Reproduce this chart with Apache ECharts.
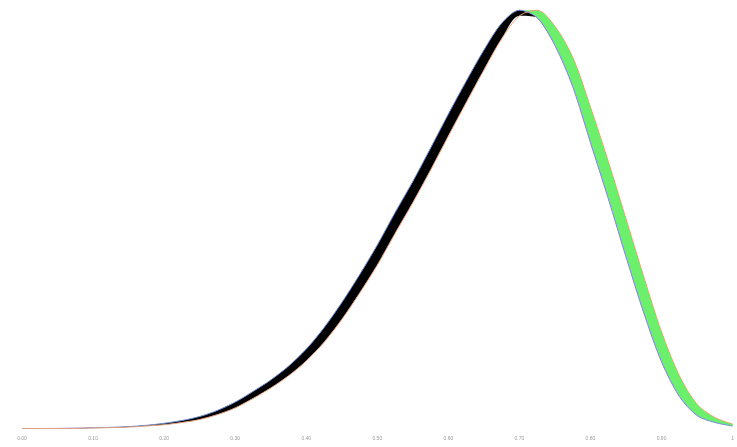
<!DOCTYPE html>
<html>
<head>
<meta charset="utf-8">
<script src="https://cdn.jsdelivr.net/npm/echarts@6/dist/echarts.min.js"></script>
<style>
html, body { margin: 0; padding: 0; background: #fff; }
#showChart { width: 737px; height: 447px; }
</style>
</head>
<body>
<div id="showChart"></div>
<script>
// x positions (0 .. 1, step 0.025)
var xs = [0, 0.025, 0.05, 0.075, 0.1, 0.125, 0.15, 0.175, 0.2, 0.225,
          0.25, 0.275, 0.3, 0.325, 0.35, 0.375, 0.4, 0.425, 0.45, 0.475,
          0.5, 0.525, 0.55, 0.575, 0.6, 0.625, 0.65, 0.675, 0.7, 0.725,
          0.75, 0.775, 0.8, 0.825, 0.85, 0.875, 0.9, 0.925, 0.95, 0.975, 1];

// left curve (blue edge)
var curveA = [0.005, 0.005, 0.006, 0.008, 0.012, 0.017, 0.024, 0.037, 0.057, 0.085,
              0.125, 0.186, 0.269, 0.375, 0.49, 0.628, 0.799, 1.013, 1.264, 1.542,
              1.84, 2.164, 2.476, 2.81, 3.15, 3.477, 3.79, 4.058, 4.188, 4.112,
              3.834, 3.423, 2.862, 2.304, 1.72, 1.16, 0.67, 0.326, 0.134, 0.065, 0.03];

// right curve (orange edge)
var curveB = [0.005, 0.005, 0.005, 0.007, 0.01, 0.014, 0.019, 0.03, 0.043, 0.065,
              0.095, 0.144, 0.211, 0.305, 0.41, 0.532, 0.681, 0.867, 1.096, 1.358,
              1.64, 1.956, 2.264, 2.59, 2.93, 3.263, 3.59, 3.902, 4.132, 4.188,
              4.026, 3.717, 3.218, 2.676, 2.1, 1.52, 0.97, 0.534, 0.246, 0.115, 0.05];

var tickLabels = ['0.00', '0.10', '0.20', '0.30', '0.40', '0.50', '0.60', '0.70', '0.80', '0.90', '1'];

var categories = [], baseData = [], darkData = [], greenData = [];
for (var i = 0; i < xs.length; i++) {
    var a = curveA[i], b = curveB[i];
    categories.push(String(xs[i]));
    baseData.push(Math.min(a, b));
    darkData.push(Math.max(a - b, 0));
    greenData.push(Math.max(b - a, 0));
}

var myChart = echarts.init(document.getElementById('showChart'));

var option = {
    animation: false,
    backgroundColor: '#ffffff',
    grid: { left: 22, right: 2, top: 9, bottom: 18 },
    xAxis: {
        type: 'category',
        data: categories,
        boundaryGap: false,
        axisLine: { show: false },
        axisTick: { show: false },
        splitLine: { show: false },
        axisLabel: {
            interval: 3,
            fontSize: 5,
            color: '#9a9a9a',
            margin: 7,
            formatter: function (v, idx) {
                return tickLabels[Math.round(idx / 4)];
            }
        }
    },
    yAxis: {
        type: 'value',
        min: 0,
        max: 4.2,
        show: false,
        splitLine: { show: false }
    },
    series: [{
        name: 'base',
        type: 'line',
        stack: 'band',
        smooth: 0.3,
        showSymbol: false,
        lineStyle: { opacity: 0 },
        data: baseData
    }, {
        name: 'dark',
        type: 'line',
        stack: 'band',
        smooth: 0.3,
        showSymbol: false,
        lineStyle: { opacity: 0 },
        areaStyle: { color: '#000000', opacity: 1 },
        data: darkData
    }, {
        name: 'green',
        type: 'line',
        stack: 'band',
        smooth: 0.3,
        showSymbol: false,
        lineStyle: { opacity: 0 },
        areaStyle: { color: '#6cf06c', opacity: 1 },
        data: greenData
    }, {
        name: 'A',
        type: 'line',
        smooth: 0.3,
        showSymbol: false,
        lineStyle: { color: '#6f8fd6', width: 1 },
        z: 3,
        data: curveA
    }, {
        name: 'B',
        type: 'line',
        smooth: 0.3,
        showSymbol: false,
        lineStyle: { color: '#e6a07c', width: 1 },
        z: 4,
        data: curveB
    }]
};

myChart.setOption(option);
</script>
</body>
</html>
